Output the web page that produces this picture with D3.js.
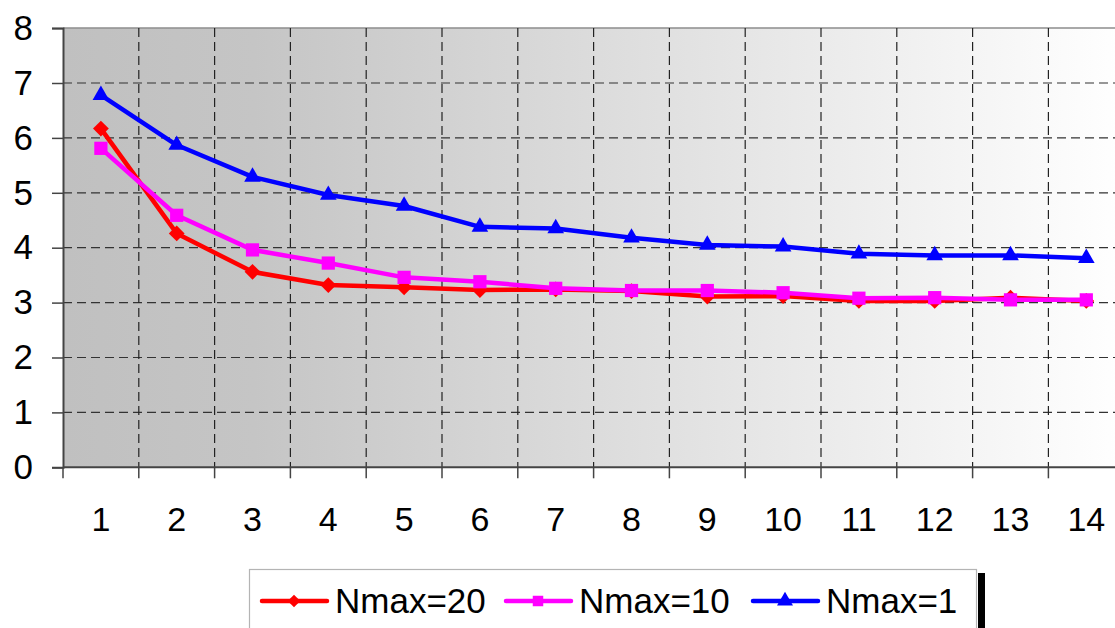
<!DOCTYPE html>
<html>
<head>
<meta charset="utf-8">
<script src="https://cdn.jsdelivr.net/npm/d3@7"></script>
<style>
  body { margin: 0; background: #fff; }
  svg { display: block; font-family: Arial, "Liberation Sans", sans-serif; }
</style>
</head>
<body>
<svg id="chart" width="1115" height="628"></svg>
<script>
// data
var categories = [1, 2, 3, 4, 5, 6, 7, 8, 9, 10, 11, 12, 13, 14];
var nmax20 = [6.17, 4.26, 3.56, 3.32, 3.28, 3.23, 3.24, 3.21, 3.11, 3.12, 3.03, 3.03, 3.09, 3.03];
var nmax10 = [5.81, 4.59, 3.96, 3.72, 3.46, 3.38, 3.26, 3.22, 3.22, 3.18, 3.08, 3.09, 3.05, 3.05];
var nmax1 = [6.78, 5.87, 5.29, 4.96, 4.76, 4.38, 4.35, 4.18, 4.05, 4.02, 3.89, 3.86, 3.86, 3.81];
var yTicks = [0, 1, 2, 3, 4, 5, 6, 7, 8];
var seriesNames = ['Nmax=20', 'Nmax=10', 'Nmax=1'];

var svg = d3.select('#chart'),
  plotLeft = 63,
  plotTop = 28.1,
  plotBottom = 467.3,
  step = 75.8,
  plotRight = plotLeft + step * categories.length; // plot runs past the window edge

var x = d3.scaleBand().domain(categories).range([plotLeft, plotRight]).padding(0);
var y = d3.scaleLinear().domain([0, 8]).range([plotBottom, plotTop]);

// gradient background
var grad = svg.append('defs').append('linearGradient')
  .attr('id', 'bg').attr('x1', '0%').attr('x2', '100%').attr('y1', '0%').attr('y2', '0%');
grad.append('stop').attr('offset', '0%').attr('stop-color', '#c0c0c0');
grad.append('stop').attr('offset', '18%').attr('stop-color', '#c5c5c5');
grad.append('stop').attr('offset', '100%').attr('stop-color', '#ffffff');

svg.append('rect')
  .attr('x', plotLeft).attr('y', plotTop)
  .attr('width', plotRight - plotLeft).attr('height', plotBottom - plotTop)
  .attr('fill', 'url(#bg)');

// top border
svg.append('line')
  .attr('x1', plotLeft).attr('x2', plotRight).attr('y1', plotTop).attr('y2', plotTop)
  .attr('stroke', '#8c8c8c').attr('stroke-width', 1.5);

// dashed grid
svg.append('g').selectAll('line')
  .data(yTicks.filter(function (d) { return d > 0 && d < 8; }))
  .enter().append('line')
  .attr('x1', plotLeft).attr('x2', plotRight)
  .attr('y1', function (d) { return y(d); }).attr('y2', function (d) { return y(d); })
  .attr('stroke', '#333').attr('stroke-width', 1.2).attr('stroke-dasharray', '9,5');

svg.append('g').selectAll('line')
  .data(categories.slice(1))
  .enter().append('line')
  .attr('x1', function (d) { return x(d); }).attr('x2', function (d) { return x(d); })
  .attr('y1', plotTop).attr('y2', plotBottom)
  .attr('stroke', '#222').attr('stroke-width', 1.2).attr('stroke-dasharray', '9,5');

// y axis
var yAxis = svg.append('g')
  .attr('transform', 'translate(' + plotLeft + ',0)')
  .call(d3.axisLeft(y).tickValues(yTicks).tickSize(11).tickPadding(19));
yAxis.select('.domain').attr('stroke', '#444').attr('stroke-width', 2);
yAxis.selectAll('.tick line').attr('stroke', '#444').attr('stroke-width', 1.5);
yAxis.selectAll('text').attr('font-size', 35).attr('fill', '#000')
  .attr('font-family', 'Arial, "Liberation Sans", sans-serif');

// x axis, ticks between categories
var xAxis = svg.append('g').attr('transform', 'translate(0,' + plotBottom + ')');
xAxis.append('line')
  .attr('x1', plotLeft).attr('x2', plotRight).attr('y1', 0).attr('y2', 0)
  .attr('stroke', '#444').attr('stroke-width', 2);
xAxis.selectAll('line.tk')
  .data(categories).enter().append('line').attr('class', 'tk')
  .attr('x1', function (d) { return x(d); }).attr('x2', function (d) { return x(d); })
  .attr('y1', 0).attr('y2', 11)
  .attr('stroke', '#444').attr('stroke-width', 1.5);
xAxis.selectAll('text')
  .data(categories).enter().append('text')
  .attr('x', function (d) { return x(d) + x.bandwidth() / 2; })
  .attr('y', 63.5)
  .attr('text-anchor', 'middle')
  .attr('font-size', 34)
  .text(function (d) { return d; });

// series; the diamond is a square turned 45 degrees
var series = [
  { name: seriesNames[0], values: nmax20, color: '#ff0000', symbol: d3.symbolSquare, size: 125, rotate: 45, legendSize: 80 },
  { name: seriesNames[1], values: nmax10, color: '#ff00ff', symbol: d3.symbolSquare, size: 175, rotate: 0, legendSize: 110 },
  { name: seriesNames[2], values: nmax1, color: '#0000ff', symbol: d3.symbolTriangle, size: 120, rotate: 0, legendSize: 110 }
];

var line = d3.line()
  .x(function (d, i) { return x(categories[i]) + x.bandwidth() / 2; })
  .y(function (d) { return y(d); });

series.forEach(function (s) {
  var g = svg.append('g');
  g.append('path')
    .attr('d', line(s.values))
    .attr('fill', 'none')
    .attr('stroke', s.color)
    .attr('stroke-width', 4.5)
    .attr('stroke-linejoin', 'round');
  g.selectAll('path.mk')
    .data(s.values).enter().append('path').attr('class', 'mk')
    .attr('d', d3.symbol().type(s.symbol).size(s.size))
    .attr('transform', function (d, i) {
      return 'translate(' + (x(categories[i]) + x.bandwidth() / 2) + ',' + y(d) + ') rotate(' + s.rotate + ')';
    })
    .attr('fill', s.color);
});

// legend
var legend = svg.append('g');
legend.append('rect')
  .attr('x', 978).attr('y', 573).attr('width', 7).attr('height', 70)
  .attr('fill', '#000');
legend.append('rect')
  .attr('x', 249.5).attr('y', 569.5).attr('width', 727).attr('height', 80)
  .attr('fill', '#fff').attr('stroke', '#b4b4b4').attr('stroke-width', 1.2);

var legendStart = [262, 506, 753];
series.forEach(function (s, i) {
  var lx = legendStart[i], ly = 601;
  legend.append('line')
    .attr('x1', lx).attr('x2', lx + 65).attr('y1', ly).attr('y2', ly)
    .attr('stroke', s.color).attr('stroke-width', 4.5).attr('stroke-linecap', 'round');
  legend.append('path')
    .attr('d', d3.symbol().type(s.symbol).size(s.legendSize))
    .attr('transform', 'translate(' + (lx + 32) + ',' + ly + ') rotate(' + s.rotate + ')')
    .attr('fill', s.color);
  legend.append('text')
    .attr('x', lx + 73).attr('y', ly + 12)
    .attr('font-size', 35)
    .attr('fill', '#000')
    .text(s.name);
});
</script>
</body>
</html>
